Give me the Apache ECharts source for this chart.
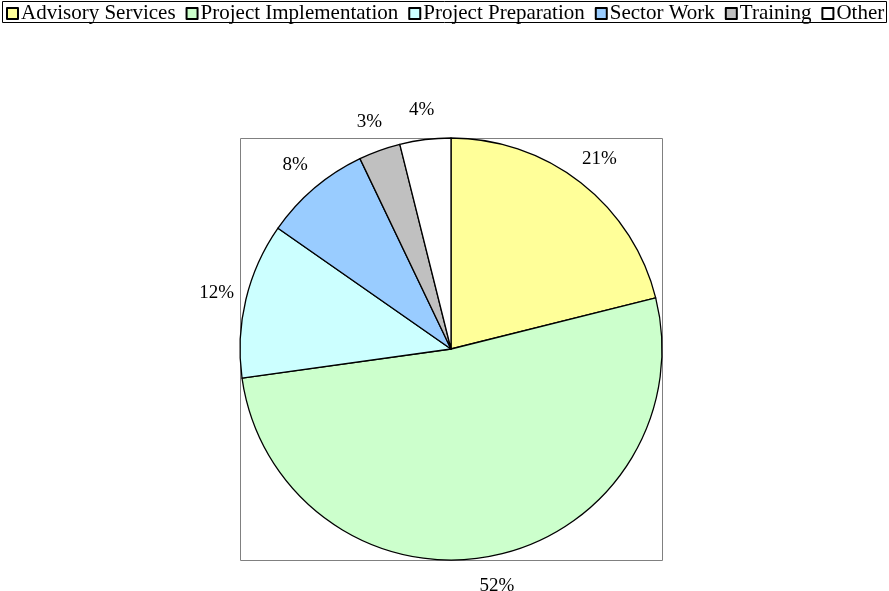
<!DOCTYPE html>
<html>
<head>
<meta charset="utf-8">
<script src="https://cdn.jsdelivr.net/npm/echarts@6/dist/echarts.min.js"></script>
<style>
  html, body { margin: 0; padding: 0; background: #fff; }
  #chart { width: 889px; height: 591px; }
</style>
</head>
<body>
<div id="chart"></div>
<script>
// Share of work by activity type, clockwise from 12 o'clock.
const categories = [
  "Advisory Services",
  "Project Implementation",
  "Project Preparation",
  "Sector Work",
  "Training",
  "Other",
];
const shares = [21.1, 51.7, 11.9, 8.2, 3.2, 3.9];
const sliceColors = ["#FFFF99", "#CCFFCC", "#CCFFFF", "#99CCFF", "#C0C0C0", "#FFFFFF"];

const FONT = "Liberation Serif";
const center = [451, 349];
const radius = 211;

const chart = echarts.init(document.getElementById("chart"));

chart.setOption({
  animation: false,
  backgroundColor: "#fff",
  color: sliceColors,
  graphic: [
    {
      // plot area frame around the pie
      type: "rect",
      z: -1,
      shape: {
        x: center[0] - radius + 0.5,
        y: center[1] - radius + 0.5,
        width: radius * 2,
        height: radius * 2,
      },
      style: { fill: "none", stroke: "#808080", lineWidth: 1 },
    },
    {
      // legend frame
      type: "rect",
      shape: { x: 2.5, y: 1.5, width: 884, height: 21 },
      style: { fill: "none", stroke: "#000", lineWidth: 1 },
    },
  ],
  legend: {
    left: 6,
    top: 3,
    padding: 0,
    itemWidth: 11,
    itemHeight: 11,
    itemGap: 10,
    icon: "rect",
    textStyle: { fontFamily: FONT, fontSize: 21, color: "#000", padding: [0, 0, 0, -2] },
    data: categories,
  },
  series: [
    {
      type: "pie",
      center: center,
      radius: radius,
      startAngle: 90,
      clockwise: true,
      avoidLabelOverlap: false,
      silent: true,
      itemStyle: { borderColor: "#000", borderWidth: 1.3 },
      label: {
        show: true,
        position: "outside",
        fontFamily: FONT,
        fontSize: 19,
        color: "#000",
        distanceToLabelLine: 0,
        formatter: (p) => Math.round(p.value) + "%",
      },
      labelLine: { show: false, length: 30, length2: 0 },
      labelLayout: () => ({ align: "center", verticalAlign: "middle" }),
      data: categories.map((name, i) => ({ name, value: shares[i] })),
    },
  ],
});
</script>
</body>
</html>
